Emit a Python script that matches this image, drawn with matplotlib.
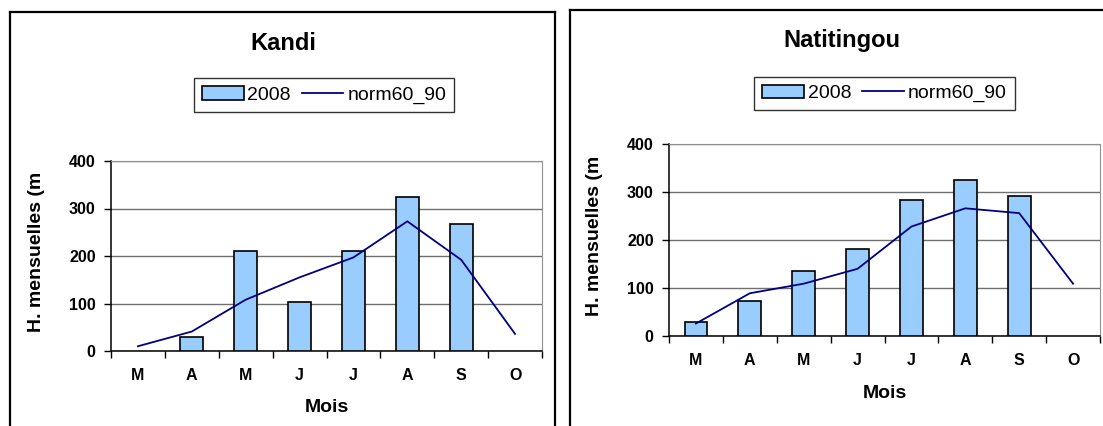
import numpy as np
import matplotlib
matplotlib.use('Agg')
import matplotlib.pyplot as plt
from matplotlib.lines import Line2D

plt.rcParams['font.family'] = ['Liberation Sans', 'DejaVu Sans']

# Datos

Meses = ['M', 'A', 'M', 'J', 'J', 'A', 'S', 'O']

Kandi_2008 = [np.nan, 29, 210, 104, 210, 324, 267, np.nan]
Kandi_norm = [10, 41, 108, 155, 197, 273, 192, 36]

Natitingou_2008 = [30, 73, 136, 181, 284, 325, 291, np.nan]
Natitingou_norm = [26, 89, 109, 140, 228, 266, 256, 109]

Titulos = ['Kandi', 'Natitingou']
Etiquetas = ['2008', 'norm60_90']

W, H = 1103, 426
fig = plt.figure(figsize=(W/100, H/100), dpi=100)


def px(x0, y0, x1, y1):
    # rectangulo en pixeles (origen arriba a la izquierda) -> fracciones de figura
    return [x0/W, 1-y1/H, (x1-x0)/W, (y1-y0)/H]


def marco(x0, y0, x1=None):
    fig.add_artist(Line2D([x0/W, x0/W], [0, 1-y0/H], color='black', lw=1.6))
    xr = x1/W if x1 is not None else 1.01
    fig.add_artist(Line2D([x0/W, xr], [1-y0/H, 1-y0/H], color='black', lw=1.6))
    if x1 is not None:
        fig.add_artist(Line2D([xr, xr], [0, 1-y0/H], color='black', lw=1.6))


def grafica(rect, barras, norma, titulo, tpos, lpos):
    ax = fig.add_axes(px(*rect))
    x = np.arange(len(Meses))
    b = ax.bar(x, barras, width=0.42, color='#99CCFF', edgecolor='black', lw=1.2, zorder=3)
    l, = ax.plot(x, norma, color='#000080', lw=1.3, zorder=4)

    ax.set_xlim(-0.5, 7.5)
    ax.set_ylim(0, 400)
    ax.set_yticks([0, 100, 200, 300, 400])
    ax.grid(axis='y', color='#707070', lw=1, zorder=0)

    ax.set_xticks(np.arange(-0.5, 8, 1))
    ax.set_xticklabels([])
    ax.tick_params(axis='x', which='major', direction='out', length=5, width=1, color='black')
    ax.set_xticks(x, minor=True)
    ax.set_xticklabels(Meses, minor=True, fontsize=11.5, fontweight='bold')
    ax.tick_params(axis='x', which='minor', length=0, pad=12)
    ax.tick_params(axis='y', direction='out', length=5, width=1, pad=6, labelsize=11.5)
    for t in ax.get_yticklabels():
        t.set_fontweight('bold')

    for s in ['top', 'right']:
        ax.spines[s].set_color('#909090')
    for s in ['left', 'bottom']:
        ax.spines[s].set_color('black')
        ax.spines[s].set_linewidth(1.1)

    ax.set_ylabel('H. mensuelles (m', fontsize=14, fontweight='bold')
    ax.yaxis.set_label_coords(-0.153, 0.52)
    ax.set_xlabel('Mois', fontsize=14, fontweight='bold')
    ax.xaxis.label.set_va('center')
    ax.xaxis.set_label_coords(0.5, -0.3)

    fig.text(tpos[0]/W, 1-tpos[1]/H, titulo, fontsize=17, fontweight='bold', ha='center', va='center')
    fig.legend([b, l], Etiquetas, loc='center', bbox_to_anchor=(lpos[0]/W, 1-lpos[1]/H),
               ncol=2, fontsize=14, frameon=True, fancybox=False, edgecolor='black',
               handlelength=2.15, handletextpad=0.2, columnspacing=0.55, borderpad=0.4,
               borderaxespad=0).get_frame().set_linewidth(1.0)
    return ax


marco(10, 12, 555)
marco(570, 10)

grafica((111, 161, 542, 351), Kandi_2008, Kandi_norm, Titulos[0], (283, 43), (324, 95))
grafica((669, 144, 1100, 336), Natitingou_2008, Natitingou_norm, Titulos[1], (842, 41), (884.5, 93.5))

plt.savefig('out.png', dpi=100)
